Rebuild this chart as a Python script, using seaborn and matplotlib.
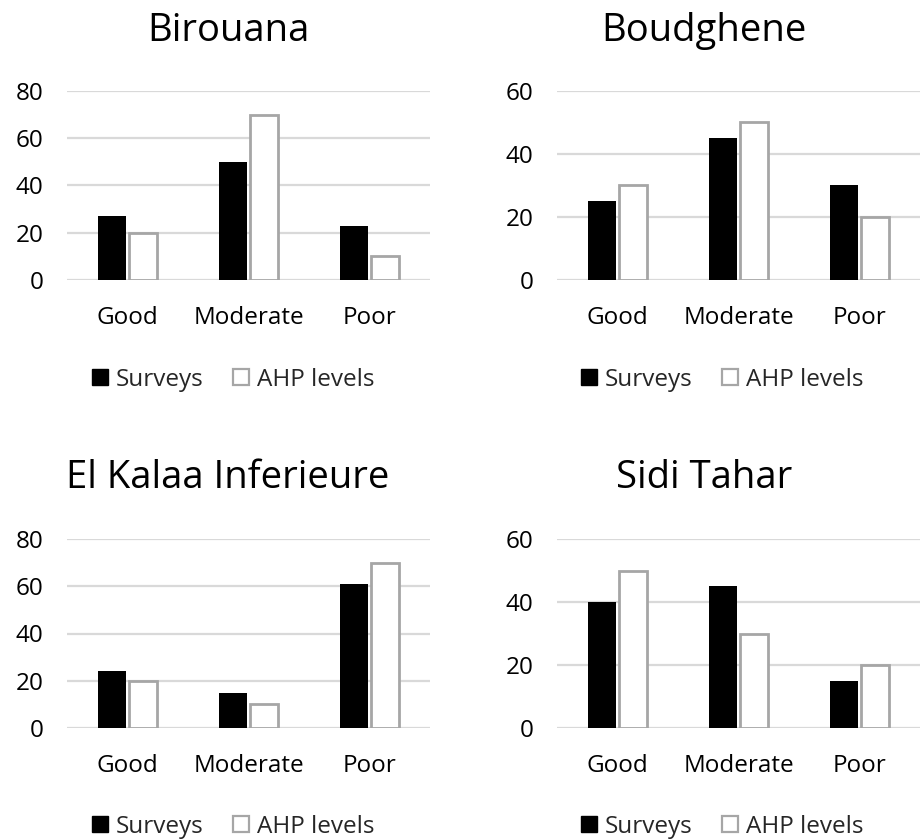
import matplotlib
matplotlib.use("Agg")
import matplotlib.pyplot as plt
import seaborn as sns
import pandas as pd
from matplotlib.lines import Line2D

categories = ["Good", "Moderate", "Poor"]
series_names = ["Surveys", "AHP levels"]
titles = ["Birouana", "Boudghene", "El Kalaa Inferieure", "Sidi Tahar"]
surveys = {
    "Birouana": [27, 50, 23],
    "Boudghene": [25, 45, 30],
    "El Kalaa Inferieure": [24, 15, 61],
    "Sidi Tahar": [40, 45, 15],
}
ahp = {
    "Birouana": [20, 70, 10],
    "Boudghene": [30, 50, 20],
    "El Kalaa Inferieure": [20, 10, 70],
    "Sidi Tahar": [50, 30, 20],
}
ymax = {"Birouana": 80, "Boudghene": 60, "El Kalaa Inferieure": 80, "Sidi Tahar": 60}

sns.set_theme(style="white")
plt.rcParams["font.family"] = ["Open Sans", "DejaVu Sans"]

W, H = 922, 840
fig = plt.figure(figsize=(W / 100, H / 100), dpi=100)

layout = {
    "Birouana": (67, 91),
    "Boudghene": (557, 91),
    "El Kalaa Inferieure": (67, 539),
    "Sidi Tahar": (557, 539),
}
title_pos = {
    "Birouana": (228, 31),
    "Boudghene": (704, 31),
    "El Kalaa Inferieure": (228, 478),
    "Sidi Tahar": (704, 478),
}
legend_pos = {
    "Birouana": (233, 380),
    "Boudghene": (722, 380),
    "El Kalaa Inferieure": (233, 827),
    "Sidi Tahar": (722, 827),
}
pw, ph = 363, 189

for t in titles:
    lx, ty = layout[t]
    ax = fig.add_axes([lx / W, 1 - (ty + ph) / H, pw / W, ph / H])
    df = pd.DataFrame({
        "cat": categories * 2,
        "val": surveys[t] + ahp[t],
        "series": [series_names[0]] * 3 + [series_names[1]] * 3,
    })
    sns.barplot(data=df, x="cat", y="val", hue="series", order=categories,
                hue_order=series_names, palette={"Surveys": "black", "AHP levels": "white"},
                width=0.52, gap=0.12, ax=ax, legend=False, zorder=3)
    for p in ax.containers[0]:
        p.set_edgecolor("black")
        p.set_linewidth(0)
    for p in ax.containers[1]:
        p.set_edgecolor("#a6a6a6")
        p.set_linewidth(2)
    ax.set_ylim(0, ymax[t])
    ax.set_xlim(-0.5, 2.5)
    ax.set_yticks(list(range(0, ymax[t] + 1, 20)))
    ax.yaxis.grid(True, color="#d9d9d9", linewidth=1.6, zorder=0)
    ax.set_axisbelow(True)
    for s in ax.spines.values():
        s.set_visible(False)
    ax.set_xlabel("")
    ax.set_ylabel("")
    ax.tick_params(axis="y", length=0, pad=17, labelsize=17.5, colors="black")
    ax.tick_params(axis="x", length=0, pad=19, labelsize=17.5, colors="black")
    ax.patch.set_alpha(0)

    tx, tyy = title_pos[t]
    fig.text(tx / W, 1 - tyy / H, t, ha="center", va="center", fontsize=27.5, color="black")

    handles = [
        Line2D([], [], marker="s", linestyle="none", markersize=11,
               markerfacecolor="black", markeredgecolor="black"),
        Line2D([], [], marker="s", linestyle="none", markersize=11,
               markerfacecolor="white", markeredgecolor="#a6a6a6", markeredgewidth=1.6),
    ]
    gx, gy = legend_pos[t]
    fig.legend(handles, series_names, loc="center", bbox_to_anchor=(gx / W, 1 - gy / H),
               ncol=2, frameon=False, fontsize=17.5, handlelength=0.7, handletextpad=0.3,
               columnspacing=1.2, borderaxespad=0)

fig.savefig("out.png", dpi=100, facecolor="white")
